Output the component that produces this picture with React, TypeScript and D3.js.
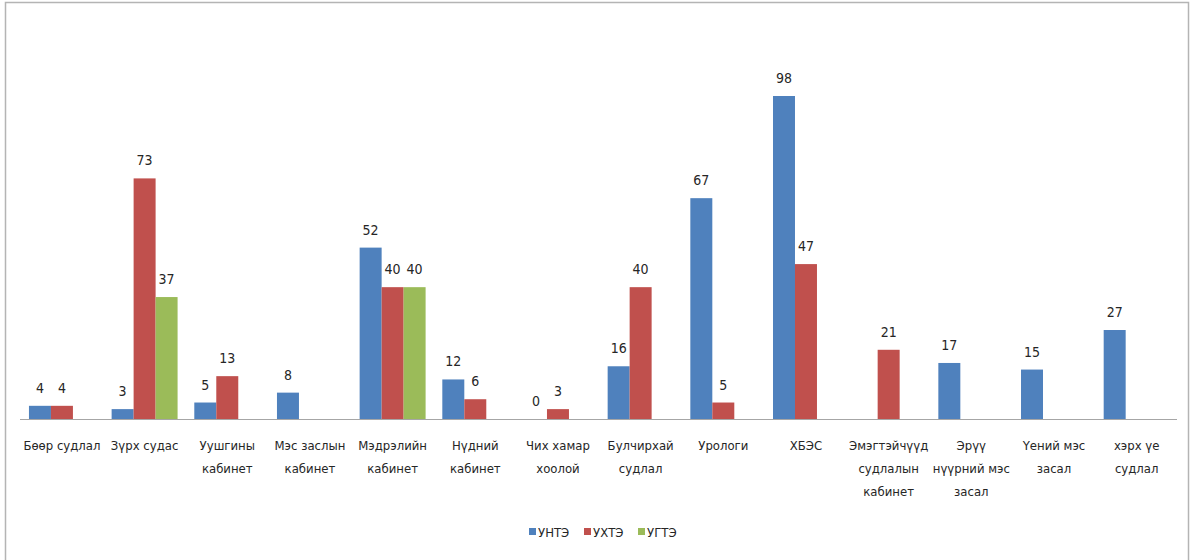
import React, { useEffect, useRef } from "react";
import * as d3 from "d3";

// categories (multi-line labels split with "|")
const categories = [
  "Бөөр судлал",
  "Зүрх судас",
  "Уушгины|кабинет",
  "Мэс заслын|кабинет",
  "Мэдрэлийн|кабинет",
  "Нүдний|кабинет",
  "Чих хамар|хоолой",
  "Булчирхай|судлал",
  "Урологи",
  "ХБЭС",
  "Эмэгтэйчүүд|судлалын|кабинет",
  "Эрүү|нүүрний мэс|засал",
  "Үений мэс|засал",
  "хэрх үе|судлал",
];

const seriesNames = ["УНТЭ", "УХТЭ", "УГТЭ"];
const seriesColors = ["#4F81BD", "#C0504D", "#9BBB59"];

const untValues: (number | null)[] = [4, 3, 5, 8, 52, 12, 0, 16, 67, 98, null, 17, 15, 27];
const uhtValues: (number | null)[] = [4, 73, 13, null, 40, 6, 3, 40, 5, 47, 21, null, null, null];
const ugtValues: (number | null)[] = [null, 37, null, null, 40, null, null, null, null, null, null, null, null, null];

const seriesValues = [untValues, uhtValues, ugtValues];

const FONT = "'Liberation Sans Narrow', 'DejaVu Sans Condensed', 'Liberation Sans', sans-serif";

export default function App() {
  const svgRef = useRef<SVGSVGElement>(null);

  useEffect(() => {
    if (!svgRef.current) return;
    const width = 1192;
    const height = 560;
    const svg = d3.select(svgRef.current).attr("width", width).attr("height", height);
    svg.selectAll("*").remove();

    svg
      .append("rect")
      .attr("width", width)
      .attr("height", height)
      .attr("fill", "#ffffff");

    // outer frame
    svg
      .append("rect")
      .attr("x", 5.5)
      .attr("y", 2.5)
      .attr("width", 1183)
      .attr("height", 600)
      .attr("fill", "none")
      .attr("stroke", "#b4b4b4")
      .attr("stroke-width", 1.5);

    const baseline = 419;
    const x0 = d3
      .scaleBand<number>()
      .domain(categories.map((_, i) => i))
      .range([20.6, 1178])
      .padding(0);

    const x1 = d3
      .scaleBand<number>()
      .domain(seriesNames.map((_, i) => i))
      .range([0, x0.bandwidth()])
      .paddingInner(0)
      .paddingOuter(0.38);

    const y = d3.scaleLinear().domain([0, 98]).range([baseline, 96]);

    // bars
    seriesValues.forEach((vals, s) => {
      const g = svg.append("g");
      vals.forEach((v, i) => {
        if (v === null) return;
        const bx = (x0(i) as number) + (x1(s) as number);
        g.append("rect")
          .attr("x", bx)
          .attr("y", y(v))
          .attr("width", x1.bandwidth())
          .attr("height", baseline - y(v))
          .attr("fill", seriesColors[s]);
        g.append("text")
          .attr("x", bx + x1.bandwidth() / 2)
          .attr("y", y(v) - 13)
          .attr("text-anchor", "middle")
          .style("font-family", FONT)
          .style("font-size", "14px")
          .attr("fill", "#262626")
          .text(v);
      });
    });

    // axis line
    svg
      .append("line")
      .attr("x1", 20)
      .attr("x2", 1177)
      .attr("y1", baseline + 0.5)
      .attr("y2", baseline + 0.5)
      .attr("stroke", "#a6a6a6")
      .attr("stroke-width", 1.2);

    // category labels
    categories.forEach((c, i) => {
      const cx = (x0(i) as number) + x0.bandwidth() / 2;
      const t = svg
        .append("text")
        .attr("text-anchor", "middle")
        .style("font-family", FONT)
        .style("font-size", "13px")
        .attr("fill", "#262626");
      c.split("|").forEach((line, k) => {
        t.append("tspan")
          .attr("x", cx)
          .attr("y", 450 + k * 23)
          .text(line);
      });
    });

    // legend
    const legendX = [529, 584, 638];
    seriesNames.forEach((n, s) => {
      svg
        .append("rect")
        .attr("x", legendX[s])
        .attr("y", 528)
        .attr("width", 7)
        .attr("height", 7)
        .attr("fill", seriesColors[s]);
      svg
        .append("text")
        .attr("x", legendX[s] + 9)
        .attr("y", 537)
        .style("font-family", FONT)
        .style("font-size", "13px")
        .attr("fill", "#262626")
        .text(n);
    });
  }, []);

  return (
    <svg
      ref={svgRef}
      style={{ position: "absolute", left: 0, top: 0, display: "block" }}
    />
  );
}
